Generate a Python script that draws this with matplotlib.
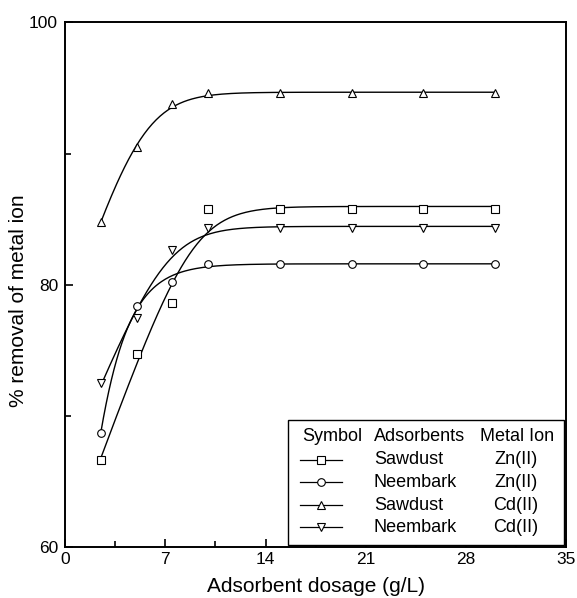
import matplotlib
matplotlib.use("Agg")
import matplotlib.pyplot as plt
import numpy as np
from matplotlib.lines import Line2D
from matplotlib.patches import Rectangle

plt.rcParams['font.family'] = ['Liberation Sans', 'DejaVu Sans']

# data
dosage = [2.5, 5, 7.5, 10, 15, 20, 25, 30]
zn_sawdust = [66.6, 74.7, 78.6, 85.75, 85.75, 85.75, 85.75, 85.75]
zn_neembark = [68.7, 78.4, 80.2, 81.6, 81.6, 81.6, 81.6, 81.6]
cd_sawdust = [84.8, 90.5, 93.8, 94.6, 94.6, 94.6, 94.6, 94.6]
cd_neembark = [72.5, 77.5, 82.65, 84.3, 84.3, 84.3, 84.3, 84.3]

adsorbents = ['Sawdust', 'Neembark', 'Sawdust', 'Neembark']
metal_ions = ['Zn(II)', 'Zn(II)', 'Cd(II)', 'Cd(II)']
markers = ['s', 'o', '^', 'v']
series = [zn_sawdust, zn_neembark, cd_sawdust, cd_neembark]


def knee_fit(x, y):
    """smooth rise to a plateau: y = top - slope*w*log(1+exp((c-x)/w)),
    grid search over c, w and least squares for top, slope"""
    x = np.asarray(x, float)
    y = np.asarray(y, float)
    best = None
    for c in np.linspace(0, 14, 141):
        for w in np.linspace(1.6, 6, 45):
            g = w * np.logaddexp(0, (c - x) / w)
            A = np.column_stack([np.ones_like(x), -g])
            coef = np.linalg.lstsq(A, y, rcond=None)[0]
            err = np.sum((A @ coef - y) ** 2)
            if best is None or err < best[0]:
                best = (err, c, w, coef)
    _, c, w, (top, slope) = best
    return lambda t: top - slope * w * np.logaddexp(0, (c - t) / w)


fig = plt.figure(figsize=(5.77, 5.98), dpi=100)
ax = fig.add_axes([0.1127, 0.0853, 0.8691, 0.8771])

xs = np.linspace(dosage[0], dosage[-1], 300)
for vals, m in zip(series, markers):
    f = knee_fit(dosage, vals)
    ax.plot(xs, f(xs), color='black', lw=1.0, zorder=2)
    ax.plot(dosage, vals, linestyle='none', marker=m, ms=5.5, mfc='white',
            mec='black', mew=0.8, zorder=3)

ax.set_xlim(0, 35)
ax.set_ylim(60, 100)
ax.set_xticks([0, 7, 14, 21, 28, 35])
ax.set_xticks([3.5, 10.5, 17.5, 24.5, 31.5], minor=True)
ax.set_yticks([60, 80, 100])
ax.set_yticks([70, 90], minor=True)
ax.tick_params(which='both', direction='in', top=False, right=False,
               labelsize=12.5, width=1.2)
ax.tick_params(which='major', length=6)
ax.tick_params(which='minor', length=4)
ax.tick_params(axis='y', pad=5)
for sp in ax.spines.values():
    sp.set_linewidth(1.4)

ax.set_xlabel('Adsorbent dosage (g/L)', fontsize=15)
ax.set_ylabel('% removal of metal ion', fontsize=15)
ax.xaxis.set_label_coords(0.5, -0.057)
ax.yaxis.set_label_coords(-0.074, 0.47)

# legend table
ax.add_patch(Rectangle((0.445, 0.004), 0.551, 0.238, transform=ax.transAxes,
                       facecolor='white', edgecolor='black', lw=1.0, zorder=4))
fs = 13
hy = 0.210
ax.text(0.472, hy, 'Symbol', transform=ax.transAxes, fontsize=fs, va='center', zorder=5)
ax.text(0.616, hy, 'Adsorbents', transform=ax.transAxes, fontsize=fs, va='center', zorder=5)
ax.text(0.901, hy, 'Metal Ion', transform=ax.transAxes, fontsize=fs, va='center',
        ha='center', zorder=5)
rows_y = [0.166, 0.123, 0.080, 0.0376]
for ry, m, ads, ion in zip(rows_y, markers, adsorbents, metal_ions):
    ax.add_line(Line2D([0.4686, 0.5517], [ry, ry], transform=ax.transAxes,
                       color='black', lw=0.9, zorder=5))
    ax.add_line(Line2D([0.5105], [ry], transform=ax.transAxes, marker=m, ms=5.5,
                       mfc='white', mec='black', mew=0.8, zorder=6))
    ax.text(0.616, ry, ads, transform=ax.transAxes, fontsize=fs, va='center', zorder=5)
    ax.text(0.899, ry, ion, transform=ax.transAxes, fontsize=fs, va='center',
            ha='center', zorder=5)

fig.savefig('out.png', dpi=100)
